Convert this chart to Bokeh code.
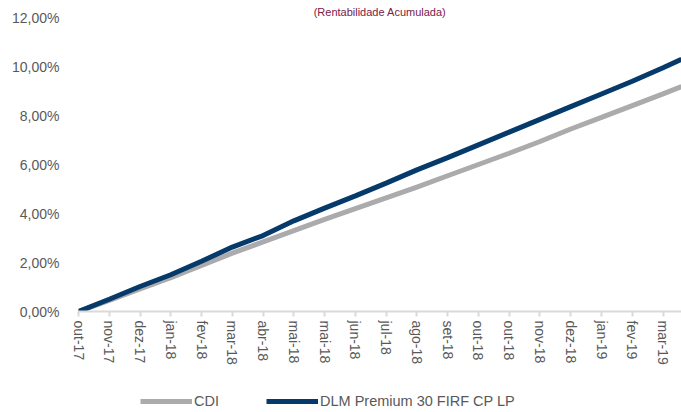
from bokeh.plotting import figure
from bokeh.layouts import column
from bokeh.models import Range1d, FixedTicker, Legend, LegendItem, Title, CustomJSTickFormatter
from bokeh.embed import file_html
from bokeh.resources import INLINE

tick_labels = ["out-17", "nov-17", "dez-17", "jan-18", "fev-18", "mar-18", "abr-18",
               "mai-18", "mai-18", "jun-18", "jul-18", "ago-18", "set-18", "out-18",
               "out-18", "nov-18", "dez-18", "jan-19", "fev-19", "mar-19"]
# sample points (tick index along the date axis) with last observation after mar-19
periods = [0, 1, 2, 3, 4, 5, 6, 7, 8, 9, 10, 11, 12, 13, 14, 15, 16, 17, 18, 19, 19.6]
dlm = [0.00, 0.50, 1.02, 1.50, 2.05, 2.63, 3.10, 3.70, 4.22, 4.72, 5.24, 5.78, 6.28,
       6.80, 7.32, 7.84, 8.36, 8.88, 9.40, 9.95, 10.29]
cdi = [0.00, 0.45, 0.92, 1.38, 1.88, 2.38, 2.84, 3.30, 3.76, 4.20, 4.64, 5.08, 5.54,
       6.00, 6.46, 6.94, 7.45, 7.92, 8.40, 8.88, 9.18]
y_ticks = [0, 2, 4, 6, 8, 10, 12]
series_names = ["CDI", "DLM Premium 30 FIRF CP LP"]

FONT = "Liberation Sans"
GREY_TXT = "#595959"
C_CDI = "#ABABAD"
C_DLM = "#053A6A"

p = figure(width=681, height=390, output_backend="svg", toolbar_location=None,
           x_range=Range1d(0, 19.6), y_range=Range1d(0, 12),
           min_border_left=78, min_border_right=0, min_border_top=17,
           min_border_bottom=79)
p.outline_line_color = None
p.grid.visible = False

p.line(periods, cdi, line_color=C_CDI, line_width=5)
p.line(periods, dlm, line_color=C_DLM, line_width=5)

p.yaxis.ticker = FixedTicker(ticks=y_ticks)
p.yaxis.formatter = CustomJSTickFormatter(code="return tick.toFixed(2).replace('.', ',') + '%';")
p.yaxis.axis_line_color = None
p.yaxis.major_tick_line_color = None
p.yaxis.minor_tick_line_color = None
p.yaxis.major_label_standoff = 13
p.yaxis.major_label_text_font = FONT
p.yaxis.major_label_text_font_size = "14px"
p.yaxis.major_label_text_color = GREY_TXT

p.xaxis.ticker = FixedTicker(ticks=list(range(len(tick_labels))))
p.xaxis.major_label_overrides = {i: t for i, t in enumerate(tick_labels)}
p.xaxis.major_label_orientation = "vertical"
p.xaxis.axis_line_color = "#D9D9D9"
p.xaxis.axis_line_width = 2
p.xaxis.major_tick_line_color = "#D9D9D9"
p.xaxis.major_tick_line_width = 2
p.xaxis.major_tick_in = 0
p.xaxis.major_tick_out = 5
p.xaxis.minor_tick_line_color = None
p.xaxis.major_label_standoff = 4
p.xaxis.major_label_text_font = FONT
p.xaxis.major_label_text_font_size = "14px"
p.xaxis.major_label_text_color = GREY_TXT

p.title = Title(text="(Rentabilidade Acumulada)", align="center", offset=-39,
                text_font=FONT, text_font_size="11px", text_font_style="normal",
                text_color="#7A2048", standoff=0)

# legend strip below the chart (series drawn out of view; only the legend shows)
lg = figure(width=681, height=22, output_backend="svg", toolbar_location=None,
            x_range=Range1d(100, 101), y_range=Range1d(100, 101),
            x_axis_location=None, y_axis_location=None,
            min_border_left=0, min_border_right=0, min_border_top=0, min_border_bottom=0)
lg.outline_line_color = None
lg.grid.visible = False
k_cdi = lg.line(periods, cdi, line_color=C_CDI, line_width=5)
k_dlm = lg.line(periods, dlm, line_color=C_DLM, line_width=5)
legend = Legend(items=[LegendItem(label=series_names[0], renderers=[k_cdi]),
                       LegendItem(label=series_names[1], renderers=[k_dlm])],
                orientation="horizontal", location=(62, 3),
                border_line_color=None, background_fill_alpha=0,
                label_text_font=FONT, label_text_font_size="14.5px",
                label_text_color=GREY_TXT, glyph_width=52, glyph_height=12,
                spacing=47, label_standoff=2, padding=0, margin=0)
lg.add_layout(legend)

layout = column(p, lg, spacing=0)
open("out.html", "w").write(file_html(layout, INLINE))
